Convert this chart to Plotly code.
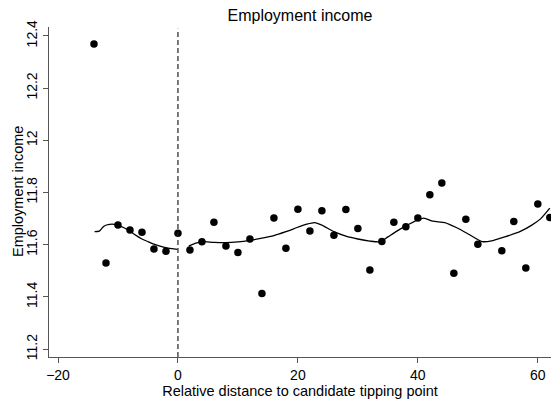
import plotly.graph_objects as go

# Binned means
bin_x = [-14, -12, -10, -8, -6, -4, -2, 0, 2, 4, 6, 8, 10, 12, 14, 16, 18, 20, 22, 24,
         26, 28, 30, 32, 34, 36, 38, 40, 42, 44, 46, 48, 50, 54, 56, 58, 60, 62]
bin_y = [12.369, 11.530, 11.676, 11.656, 11.648, 11.584, 11.575, 11.644, 11.580, 11.611,
         11.686, 11.595, 11.570, 11.622, 11.413, 11.702, 11.587, 11.736, 11.653, 11.730,
         11.636, 11.735, 11.662, 11.503, 11.612, 11.686, 11.669, 11.702, 11.791, 11.836,
         11.491, 11.698, 11.602, 11.577, 11.689, 11.511, 11.756, 11.704]

# Local polynomial fit, left of cutoff
left_x = [-13.9, -13.1, -12.3, -11.4, -10.3, -9, -8, -7, -6, -5, -4, -3, -2, -1, -0.1]
left_y = [11.650, 11.652, 11.672, 11.678, 11.677, 11.665, 11.652, 11.636, 11.622, 11.612,
          11.602, 11.595, 11.589, 11.585, 11.582]

# Local polynomial fit, right of cutoff
right_x = [1.8, 3, 4, 6, 8, 10, 12, 14, 16, 18, 20, 21.5, 22.8, 24, 26, 28, 30, 32, 33.7,
           35, 36.5, 38, 40, 41, 42.5, 44.5, 46.5, 48.5, 50.7, 52.5, 54.5, 57, 59, 60.5, 62]
right_y = [11.595, 11.606, 11.612, 11.609, 11.608, 11.611, 11.617, 11.625, 11.635, 11.650,
           11.667, 11.679, 11.685, 11.675, 11.650, 11.633, 11.622, 11.614, 11.611, 11.630,
           11.652, 11.672, 11.695, 11.702, 11.690, 11.685, 11.665, 11.640, 11.612, 11.616,
           11.630, 11.650, 11.675, 11.700, 11.740]

x_ticks = [-20, 0, 20, 40, 60]
y_ticks = [11.2, 11.4, 11.6, 11.8, 12.0, 12.2, 12.4]
y_tick_labels = ["11.2", "11.4", "11.6", "11.8", "12", "12.2", "12.4"]

FONT = "Liberation Sans, Arial, sans-serif"

fig = go.Figure()
fig.add_trace(go.Scatter(x=left_x, y=left_y, mode="lines",
                         line=dict(color="black", width=1.3, shape="spline", smoothing=0.6),
                         showlegend=False, hoverinfo="skip"))
fig.add_trace(go.Scatter(x=right_x, y=right_y, mode="lines",
                         line=dict(color="black", width=1.3, shape="spline", smoothing=0.6),
                         showlegend=False, hoverinfo="skip"))
fig.add_trace(go.Scatter(x=bin_x, y=bin_y, mode="markers",
                         marker=dict(color="black", size=7.5),
                         showlegend=False))

fig.add_shape(type="line", xref="x", yref="paper", x0=0, x1=0, y0=0, y1=0.995,
              line=dict(color="#222", width=1.2, dash="5px,3px"))

fig.add_annotation(text="Employment income", xref="paper", yref="paper",
                   x=0, y=0.5, xanchor="center", yanchor="middle", xshift=-31,
                   textangle=-90, showarrow=False,
                   font=dict(size=14.5, color="black", family=FONT))

fig.update_layout(
    width=557, height=405,
    margin=dict(l=49, r=6, t=27, b=48),
    paper_bgcolor="white", plot_bgcolor="white",
    font=dict(family=FONT, color="black", size=14),
    title=dict(text="Employment income", x=0.5, xanchor="center", xref="paper",
               y=1 - 15 / 405, yanchor="middle", font=dict(size=16, family=FONT)),
)
fig.update_xaxes(range=[-21.5, 62.2], tickvals=x_ticks, showgrid=False, zeroline=False,
                 showline=True, linecolor="#555", linewidth=1.2,
                 ticks="outside", ticklen=5, tickcolor="#555", tickwidth=1.2,
                 tickfont=dict(size=14), automargin=False,
                 title=dict(text="Relative distance to candidate tipping point",
                            font=dict(size=14.5, color="black"), standoff=2))
fig.update_yaxes(range=[11.17, 12.434], tickvals=y_ticks, ticktext=y_tick_labels,
                 tickangle=-90, showgrid=False, zeroline=False,
                 showline=True, linecolor="#555", linewidth=1.2,
                 ticks="outside", ticklen=5, tickcolor="#555", tickwidth=1.2,
                 tickfont=dict(size=14), automargin=False)

fig.write_html("out.html", config={"displayModeBar": False},
               post_script="document.body.style.margin='0px';document.body.style.padding='0px';")
